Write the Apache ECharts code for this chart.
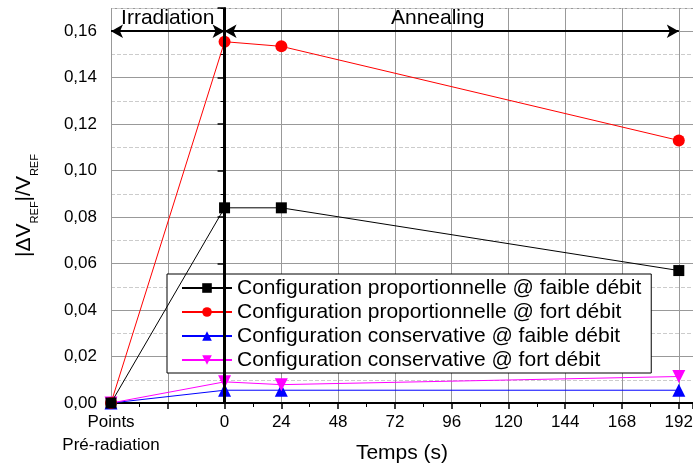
<!DOCTYPE html>
<html>
<head>
<meta charset="utf-8">
<script src="https://cdn.jsdelivr.net/npm/echarts@6/dist/echarts.min.js"></script>
<style>
html,body{margin:0;padding:0;background:#fff;}
#chart{width:693px;height:465px;}
</style>
</head>
<body>
<div id="chart"></div>
<script>
// x = -48 stands for the "Points Pré-radiation" position
var temps = [-48, 0, 24, 192];
var propFaible = [0, 0.084, 0.084, 0.057];
var propFort = [0, 0.1555, 0.1535, 0.113];
var consFaible = [0, 0.0055, 0.0055, 0.0055];
var consFort = [0, 0.0091, 0.0079, 0.0114];
var noms = [
    'Configuration proportionnelle @ faible débit',
    'Configuration proportionnelle @ fort débit',
    'Configuration conservative @ faible débit',
    'Configuration conservative @ fort débit'
];
var preLabel = 'Points\nPré-radiation';

function pts(vals) {
    return temps.map(function (t, i) { return [t, vals[i]]; });
}

var police = 'Arial, "Liberation Sans", sans-serif';
var chart = echarts.init(document.getElementById('chart'));

option = {
    animation: false,
    textStyle: {fontFamily: police},
    grid: {left: 111, right: 0, top: 8, bottom: 62, outerBoundsMode: 'none', containLabel: false},
    legend: {
        orient: 'vertical',
        left: 167,
        top: 274,
        data: noms,
        backgroundColor: '#fff',
        borderColor: '#000',
        borderWidth: 1,
        padding: [2, 10, 1, 14],
        itemGap: 0,
        itemWidth: 50,
        itemHeight: 12,
        textStyle: {fontSize: 21, color: '#000', fontFamily: police, lineHeight: 24}
    },
    xAxis: {
        type: 'value',
        min: -48,
        max: 198,
        interval: 24,
        name: 'Temps (s)',
        nameLocation: 'middle',
        nameGap: 40,
        nameMoveOverlap: false,
        nameTextStyle: {fontSize: 21, color: '#000'},
        axisLine: {lineStyle: {color: '#000', width: 2}},
        axisTick: {length: 6, lineStyle: {color: '#000', width: 1.5}},
        minorTick: {show: true, splitNumber: 2, length: 4, lineStyle: {color: '#000'}},
        axisLabel: {
            fontSize: 17, color: '#000', margin: 8, lineHeight: 23,
            formatter: function (v) {
                if (v === -48) return preLabel;
                if (v >= 0 && v % 24 === 0) return String(v);
                return '';
            }
        },
        splitLine: {show: true, lineStyle: {color: '#999', width: 1}}
    },
    yAxis: {
        type: 'value',
        min: 0,
        max: 0.17,
        interval: 0.02,
        name: '{n||ΔV}{s|REF}{n||/V}{s|REF}',
        nameLocation: 'middle',
        nameGap: 76,
        nameMoveOverlap: false,
        nameTextStyle: {
            rich: {
                n: {fontSize: 21, color: '#000', fontFamily: police},
                s: {fontSize: 11, color: '#000', fontFamily: police, verticalAlign: 'bottom', padding: [0, 0, -5, 0]}
            }
        },
        axisLine: {show: true, lineStyle: {color: '#000', width: 2}},
        axisTick: {show: true, length: 7, lineStyle: {color: '#000', width: 1.5}},
        minorTick: {show: true, splitNumber: 2, length: 4, lineStyle: {color: '#000'}},
        axisLabel: {
            fontSize: 17, color: '#000', margin: 14,
            formatter: function (v) {
                var k = Math.round(v * 100);
                if (k % 2 !== 0) return '';
                return v.toFixed(2).replace('.', ',');
            }
        },
        splitLine: {show: true, lineStyle: {color: '#999', width: 1}},
        minorSplitLine: {show: true, lineStyle: {color: '#ccc', type: 'dashed', width: 1}}
    },
    series: [
        {
            name: noms[0], type: 'line', data: pts(propFaible),
            symbol: 'rect', symbolSize: 11,
            itemStyle: {color: '#000'}, lineStyle: {color: '#000', width: 1},
            z: 5,
            markLine: {
                silent: true,
                symbol: ['none', 'none'],
                lineStyle: {color: '#000', width: 3, type: 'solid'},
                label: {show: false},
                data: [{xAxis: 0}]
            }
        },
        {
            name: noms[1], type: 'line', data: pts(propFort),
            symbol: 'circle', symbolSize: 12,
            itemStyle: {color: '#ff0000'}, lineStyle: {color: '#ff0000', width: 1},
            z: 4,
            markLine: {
                silent: true,
                symbol: ['arrow', 'arrow'],
                symbolSize: [10, 12],
                lineStyle: {color: '#000', width: 2, type: 'solid'},
                label: {show: true, position: 'middle', color: '#000', fontSize: 21, fontFamily: police, distance: 3},
                data: [
                    [{coord: [-48, 0.16], label: {formatter: 'Irradiation'}}, {coord: [0, 0.16]}],
                    [{coord: [0, 0.16], label: {formatter: 'Annealing', offset: [-14, 0]}}, {coord: [192, 0.16]}]
                ]
            }
        },
        {
            name: noms[2], type: 'line', data: pts(consFaible),
            symbol: 'triangle', symbolSize: 13,
            itemStyle: {color: '#0000ff'}, lineStyle: {color: '#0000ff', width: 1},
            z: 3
        },
        {
            name: noms[3], type: 'line', data: pts(consFort),
            symbol: 'triangle', symbolSize: 13, symbolRotate: 180,
            itemStyle: {color: '#ff00ff'}, lineStyle: {color: '#ff00ff', width: 1},
            z: 3
        }
    ]
};
chart.setOption(option);
</script>
</body>
</html>
